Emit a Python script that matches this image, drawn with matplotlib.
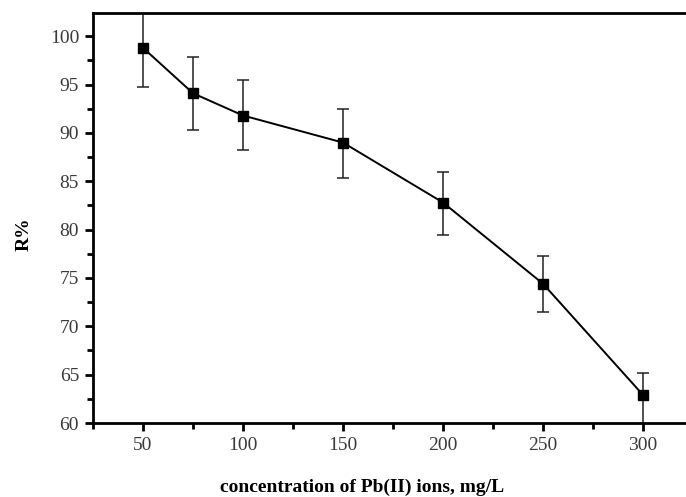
#!/usr/bin/env python3

import matplotlib.pyplot as plt
from matplotlib.ticker import MultipleLocator

# removal % vs initial Pb(II) concentration
conc = [50, 75, 100, 150, 200, 250, 300]
removal = [98.8, 94.1, 91.8, 89.0, 82.8, 74.4, 62.9]
err_low = [4.1, 3.8, 3.6, 3.7, 3.35, 2.95, 3.0]
err_high = [4.1, 3.8, 3.7, 3.5, 3.2, 2.85, 2.3]

x_ticks = [50, 100, 150, 200, 250, 300]
y_ticks = [60, 65, 70, 75, 80, 85, 90, 95, 100]

plt.rcParams["font.family"] = ["Liberation Serif", "DejaVu Serif"]

fig = plt.figure(figsize=(6.86, 4.97), dpi=100)
ax = fig.add_axes([93 / 686, 74 / 497, 600 / 686, 410 / 497])

ax.errorbar(conc, removal, yerr=[err_low, err_high], color="black",
            linewidth=1.4, marker="s", markersize=6.5, ecolor="#222222",
            elinewidth=1.1, capsize=4, capthick=1.1)

ax.set_xlim(25, 325)
ax.set_ylim(60, 102.4)
ax.set_xticks(x_ticks)
ax.set_yticks(y_ticks)
ax.xaxis.set_minor_locator(MultipleLocator(25))
ax.yaxis.set_minor_locator(MultipleLocator(2.5))

for side in ax.spines.values():
    side.set_linewidth(2)
ax.tick_params(which="major", direction="out", length=6, width=2,
               labelsize=14, labelcolor="#3a3a3a", pad=4)
ax.tick_params(which="minor", direction="out", length=4, width=2)

ax.set_xlabel("concentration of Pb(II) ions, mg/L", fontsize=14,
              fontweight="bold", va="center")
ax.xaxis.set_label_coords((362 - 93) / 600, -0.156)
ax.set_ylabel("R%", fontsize=14, fontweight="bold")
ax.yaxis.set_label_coords(-0.10, 0.46)

fig.savefig("out.png", dpi=100)
